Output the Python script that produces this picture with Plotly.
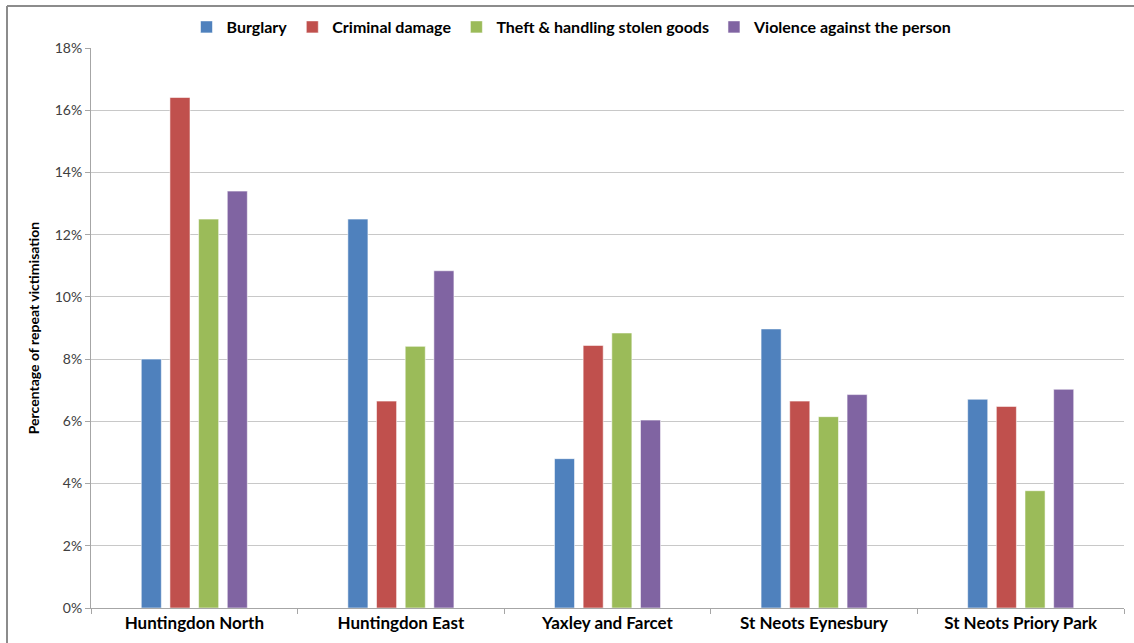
import plotly.graph_objects as go

categories = ["Huntingdon North", "Huntingdon East", "Yaxley and Farcet", "St Neots Eynesbury", "St Neots Priory Park"]
series_names = ["Burglary", "Criminal damage", "Theft & handling stolen goods", "Violence against the person"]
burglary = [0.080, 0.125, 0.048, 0.0897, 0.0671]
criminal_damage = [0.1641, 0.0665, 0.0844, 0.0665, 0.0648]
theft = [0.125, 0.0841, 0.0884, 0.0615, 0.0377]
violence = [0.134, 0.1084, 0.0604, 0.0686, 0.0703]
colors = ["#4F81BD", "#C0504D", "#9BBB59", "#8064A2"]
y_ticks = [0, 0.02, 0.04, 0.06, 0.08, 0.10, 0.12, 0.14, 0.16, 0.18]
y_title = "Percentage of repeat victimisation"

W, H = 1134, 643
L, R, T, B = 91, 10, 48, 35
pw, ph = W - L - R, H - T - B

def px_x(p):
    return (p - L) / pw

def px_y(p):
    return (H - B - p) / ph

fig = go.Figure()
for name, vals, col in zip(series_names, [burglary, criminal_damage, theft, violence], colors):
    fig.add_trace(go.Bar(
        x=categories, y=vals, name=name,
        marker=dict(color=col, line=dict(color="rgba(255,255,255,0.55)", width=1)),
    ))

fig.update_layout(
    width=W, height=H,
    margin=dict(l=L, r=R, t=T, b=B, autoexpand=False),
    paper_bgcolor="white", plot_bgcolor="white",
    barmode="group", bargap=0.445, bargroupgap=0.3,
    font=dict(family="Lato", color="#000000"),
    showlegend=True,
    legend=dict(
        orientation="h", x=px_x(572), xanchor="center", y=px_y(27), yanchor="middle",
        font=dict(family="Lato", size=16, color="#000000", weight="bold"),
        itemwidth=30, traceorder="normal", bgcolor="rgba(0,0,0,0)",
    ),
    xaxis=dict(
        type="category", showgrid=False, showline=True, linecolor="#a6a6a6", linewidth=1,
        ticks="outside", tickson="boundaries", ticklen=5, tickcolor="#a6a6a6",
        tickfont=dict(family="Lato", size=17, color="#000000", weight="bold"),
        zeroline=False,
    ),
    yaxis=dict(
        range=[0, 0.18], tickvals=y_ticks, tickformat=".0%",
        showgrid=True, gridcolor="#c8c8c8", gridwidth=1,
        showline=True, linecolor="#a6a6a6", linewidth=1,
        ticks="outside", ticklen=5, tickcolor="#a6a6a6",
        tickfont=dict(family="Lato", size=14, color="#404040"),
        zeroline=False,
        title=dict(text=y_title, font=dict(family="Lato", size=14, color="#000000", weight="bold"), standoff=11),
    ),
    shapes=[
        dict(type="line", xref="paper", yref="paper", x0=px_x(7), x1=px_x(1134), y0=px_y(6), y1=px_y(6),
             line=dict(color="#8c8c8c", width=2)),
        dict(type="line", xref="paper", yref="paper", x0=px_x(7), x1=px_x(7), y0=px_y(6), y1=px_y(643),
             line=dict(color="#8c8c8c", width=2)),
    ],
)

fig.write_html("out.html", config={"displayModeBar": False},
               post_script="document.body.style.margin='0';document.body.style.overflow='hidden';")
